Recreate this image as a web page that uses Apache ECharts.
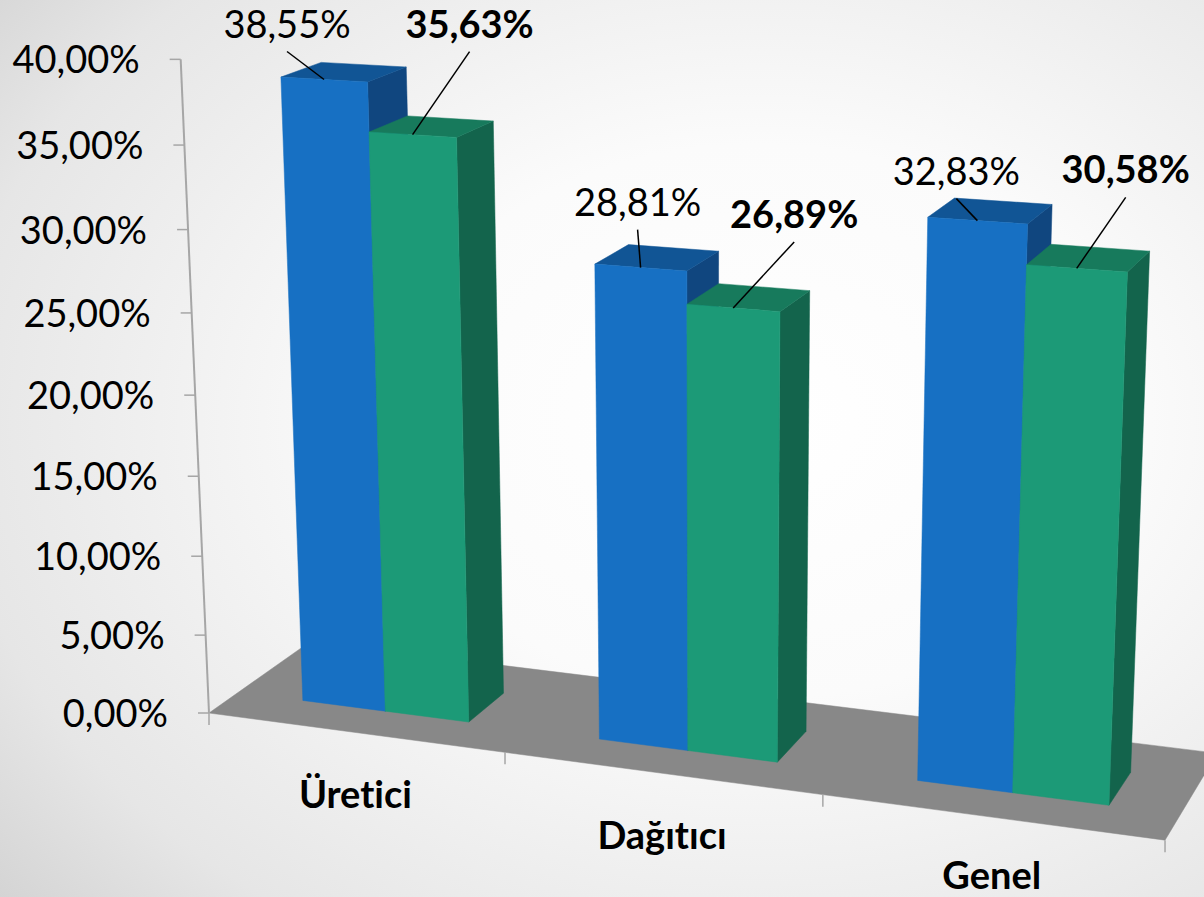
<!DOCTYPE html>
<html>
<head>
<meta charset="utf-8">
<style>html,body{margin:0;padding:0;background:#fff}#c{width:1204px;height:897px}text{font-variant-ligatures:none !important;font-feature-settings:"liga" 0,"clig" 0 !important}</style>
<script src="https://cdn.jsdelivr.net/npm/echarts@6/dist/echarts.min.js"></script>
</head>
<body>
<div id="c"></div>
<script>
const categories = ['Üretici', 'Dağıtıcı', 'Genel'];
const blueValues = [38.55, 28.81, 32.83];
const greenValues = [35.63, 26.89, 30.58];
const tickValues = [0, 5, 10, 15, 20, 25, 30, 35, 40];
const tickLabels = ['0,00%', '5,00%', '10,00%', '15,00%', '20,00%', '25,00%', '30,00%', '35,00%', '40,00%'];
const blueLabelOffsets = [[-37, -28], [-3, -38], [-21, -22]];
const greenLabelOffsets = [[57, -83], [61, -66], [49, -71]];

// Camera: three vanishing points and an origin turn (category, value, depth) into the picture.
const O = [209, 713], VX = [-8115, -394], VY = [711, 12300], VZ = [2000, -550];
const AX = -0.03434, AY = -0.001335, AZ = 0.0598;
function project(X, Y, Z) {
  const a = AX * X, b = AY * Y, c = AZ * Z, d = 1 + a + b + c;
  return [
    (O[0] + a * VX[0] + b * VY[0] + c * VZ[0]) / d,
    (O[1] + a * VX[1] + b * VY[1] + c * VZ[1]) / d
  ];
}
const G = { left: 100, top: 40, width: 900, height: 800 };
// Read the flat axes' scale, then place the result in perspective.
function model(api, cat, val) {
  const p = api.coord([cat, val]);
  const band = api.size([1, 0])[0];
  return { X: (p[0] - G.left) / band, Y: (G.top + G.height - p[1]) / (G.height / 40) };
}
const poly = (pts, fill) => ({
  type: 'polygon', shape: { points: pts },
  style: { fill, stroke: fill, lineWidth: 0.5 }, silent: true
});
const seg = (a, b, stroke, lineWidth) => ({
  type: 'line', shape: { x1: a[0], y1: a[1], x2: b[0], y2: b[1] },
  style: { stroke, lineWidth, fill: null }, silent: true
});
const FONT = 'Lato, "Open Sans", sans-serif';
const text = (s, x, y, size, weight, align) => ({
  type: 'text', silent: true,
  style: { text: s, x, y, fill: '#000', font: `${weight} ${size}px ${FONT}`, align: align || 'center', verticalAlign: 'middle' }
});
const fmt = v => v.toFixed(2).replace('.', ',') + '%';

const ZF = 0.281, ZB = 0.665, LEFT = 0.226, MID = 0.511, RIGHT = 0.794;
function barItem(x0, x1, colors, offsets, weight) {
  return function (params, api) {
    const i = api.value(0), v = api.value(1);
    const m = model(api, i, v);
    const base = Math.floor(m.X);
    const a = base + x0, b = base + x1;
    const ftl = project(a, m.Y, ZF), ftr = project(b, m.Y, ZF);
    const fbl = project(a, 0, ZF), fbr = project(b, 0, ZF);
    const btl = project(a, m.Y, ZB), btr = project(b, m.Y, ZB), bbr = project(b, 0, ZB);
    const anchor = project((a + b) / 2, m.Y, ZF);
    const off = offsets[i];
    const tip = [anchor[0] + off[0], anchor[1] + off[1]];
    return {
      type: 'group', children: [
        poly([ftr, btr, bbr, fbr], colors.side),
        poly([ftl, btl, btr, ftr], colors.top),
        poly([ftl, ftr, fbr, fbl], colors.front),
        seg(anchor, tip, '#000', 1.5),
        text(fmt(v), tip[0], tip[1] - 29, 38, weight)
      ]
    };
  };
}

const chart = echarts.init(document.getElementById('c'), null, { renderer: 'svg' });
chart.setOption({
  animation: false,
  backgroundColor: {
    type: 'radial', x: 0.63, y: 0.47, r: 1.03,
    colorStops: [{ offset: 0, color: '#ffffff' }, { offset: 0.3, color: '#fbfbfb' }, { offset: 0.65, color: '#e6e6e6' }, { offset: 1, color: '#bcbcbc' }]
  },
  grid: G,
  xAxis: { type: 'category', data: categories, show: false },
  yAxis: { type: 'value', min: 0, max: 40, interval: 5, show: false },
  series: [
    {
      name: 'floor', type: 'custom', coordinateSystem: 'cartesian2d', silent: true, z: 1,
      data: [[0, 0]],
      encode: { x: 0, y: 1 },
      renderItem() {
        const n = categories.length;
        return poly([project(0, 0, 0), project(n, 0, 0), project(n, 0, 1), project(0, 0, 1)], '#888888');
      }
    },
    {
      name: 'value axis', type: 'custom', coordinateSystem: 'cartesian2d', silent: true, z: 2,
      data: tickValues.map((v, k) => [0, v, k]),
      encode: { x: 0, y: 1 },
      renderItem(params, api) {
        const m = model(api, 0, api.value(1));
        const p = project(0, m.Y, 0);
        const children = [
          seg([p[0] - 11, p[1]], p, '#a6a6a6', 1.5),
          text(tickLabels[api.value(2)], p[0] - 41, p[1] - 1, 38, 400, 'right')
        ];
        if (params.dataIndex === 0) children.push(seg(project(0, 0, 0), project(0, 40, 0), '#a6a6a6', 2));
        return { type: 'group', children };
      }
    },
    {
      name: 'category axis', type: 'custom', coordinateSystem: 'cartesian2d', silent: true, z: 2,
      data: categories.map((c, i) => [i, 0]),
      encode: { x: 0, y: 1 },
      renderItem(params, api) {
        const i = api.value(0);
        const l = project(i, 0, 0), r = project(i + 1, 0, 0), c = project(i + 0.5, 0, 0);
        const children = [
          seg(r, [r[0], r[1] + 12], '#a6a6a6', 1.5),
          text(categories[i], c[0] + 1, Math.min(c[1] + 61, 874), 38, 700)
        ];
        if (i === 0) children.push(seg(l, [l[0], l[1] + 12], '#a6a6a6', 1.5));
        return { type: 'group', children };
      }
    },
    {
      name: 'Seri 1', type: 'custom', coordinateSystem: 'cartesian2d', silent: true, z: 3,
      data: blueValues.map((v, i) => [i, v]),
      encode: { x: 0, y: 1 },
      renderItem: barItem(LEFT, MID, { front: '#1770c3', top: '#115595', side: '#10467f' }, blueLabelOffsets, 400)
    },
    {
      name: 'Seri 2', type: 'custom', coordinateSystem: 'cartesian2d', silent: true, z: 4,
      data: greenValues.map((v, i) => [i, v]),
      encode: { x: 0, y: 1 },
      renderItem: barItem(MID, RIGHT, { front: '#1c9a77', top: '#177a5c', side: '#13644c' }, greenLabelOffsets, 700)
    }
  ]
});
</script>
</body>
</html>
